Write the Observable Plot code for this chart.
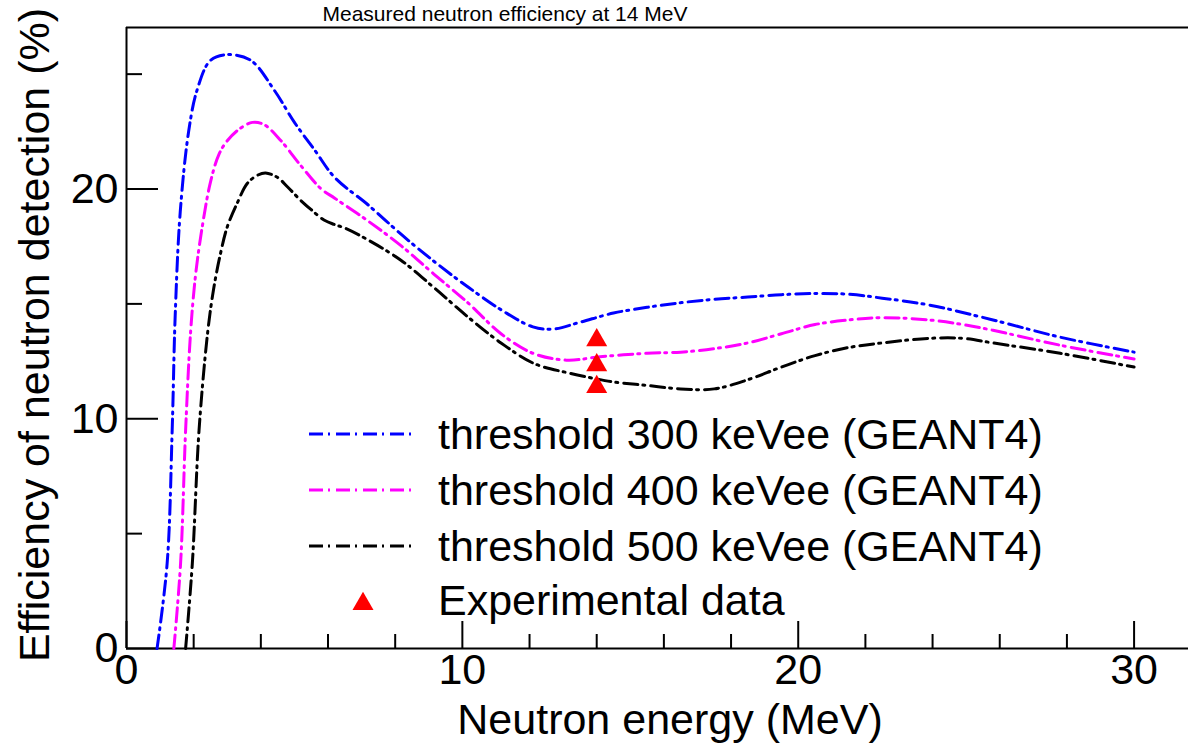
<!DOCTYPE html>
<html>
<head>
<meta charset="utf-8">
<script src="https://cdn.jsdelivr.net/npm/d3@7"></script>
<script src="https://cdn.jsdelivr.net/npm/@observablehq/plot@0.6"></script>
<style>
  html, body { margin: 0; padding: 0; background: #fff; overflow: hidden; }
  #wrap { position: relative; width: 1188px; height: 743px; overflow: hidden; background: #fff;
          font-family: "Liberation Sans", Arial, Helvetica, sans-serif; color: #000; }
  #wrap svg.plot { position: absolute; left: 0; top: 0; }
  .abs { position: absolute; white-space: nowrap; }
</style>
</head>
<body>
<div id="wrap"></div>
<script>
// ---------- data ----------
const titleText = "Measured neutron efficiency at 14 MeV";
const xLabel = "Neutron energy (MeV)";
const yLabel = "Efficiency of neutron detection (%)";

const seriesNames = ["threshold 300 keVee (GEANT4)", "threshold 400 keVee (GEANT4)", "threshold 500 keVee (GEANT4)"];
const seriesColors = ["#0000ff", "#ff00ff", "#000000"];
const expName = "Experimental data";

const e300 = [0.91,1.21,1.36,1.45,1.6,1.85,2.1,2.5,3.0,3.7,4.4,5.0,5.6,6.2,7.2,8.2,9.2,10.2,11.2,12.1,12.7,13.5,14.5,15.5,16.5,17.5,18.5,19.5,20.5,21.5,22.5,23.9,25.8,27.8,30.0];
const eff300 = [0,3.7,9.5,14.5,19.0,22.5,24.3,25.6,25.85,25.6,24.3,22.9,21.7,20.5,19.3,18.0,16.8,15.7,14.7,14.0,13.9,14.2,14.6,14.85,15.05,15.2,15.3,15.4,15.45,15.42,15.25,14.95,14.3,13.55,12.9];

const e400 = [1.41,1.61,1.76,1.91,2.06,2.26,2.5,2.75,3.0,3.35,3.75,4.1,4.6,5.2,5.8,6.2,7.2,8.2,9.15,10.2,11.15,12.1,13.1,14.1,15.5,16.5,17.5,18.5,19.5,20.5,21.5,22.5,23.9,24.9,25.8,27.8,30.0];
const eff400 = [0,3.7,9.5,13.8,16.3,18.4,20.3,21.5,22.1,22.6,22.9,22.8,22.1,21.0,20.0,19.6,18.6,17.5,16.3,15.0,13.7,12.85,12.55,12.7,12.85,12.9,13.05,13.3,13.7,14.1,14.3,14.4,14.3,14.1,13.85,13.2,12.6];

const e500 = [1.76,1.96,2.16,2.42,2.6,2.8,3.0,3.3,3.6,3.9,4.14,4.5,4.79,5.19,5.5,5.88,6.2,6.5,7.17,8.17,9.16,10.15,11.15,12.14,13.14,13.93,14.5,15.5,16.5,17.5,18.5,19.5,20.5,21.5,22.5,23.9,24.9,25.8,27.8,30.0];
const eff500 = [0,3.7,9.5,13.8,15.7,17.2,18.35,19.4,20.25,20.6,20.7,20.5,20.1,19.5,19.1,18.65,18.45,18.3,17.8,16.9,15.7,14.45,13.3,12.4,12.0,11.75,11.6,11.45,11.3,11.3,11.7,12.25,12.75,13.1,13.3,13.5,13.5,13.3,12.85,12.25];

const expEnergy = [14, 14, 14];
const expEff = [13.42, 12.33, 11.39];

const xDomain = [0, 31.62];
const yDomain = [0, 27.03];
const xMajorTicks = [0, 10, 20, 30];
const xMinorTicks = [2, 4, 6, 8, 12, 14, 16, 18, 22, 24, 26, 28];
const yMajorTicks = [0, 10, 20];
const yMinorTicks = [5, 15, 25];

// ---------- layout ----------
const W = 1188, H = 743;
const mL = 126, mR = 0, mT = 27, mB = 95;
const plotW = W - mL - mR, plotH = H - mT - mB;
const FONT = '"Liberation Sans", Arial, Helvetica, sans-serif';
const DASH = "14,5,2,6";
const FS = "43px";

const toRows = (xs, ys) => xs.map((x, i) => ({x, y: ys[i]}));
const rows300 = toRows(e300, eff300);
const rows400 = toRows(e400, eff400);
const rows500 = toRows(e500, eff500);
const expRows = toRows(expEnergy, expEff);

const chart = Plot.plot({
  width: W, height: H,
  marginLeft: mL, marginRight: mR, marginTop: mT, marginBottom: mB,
  style: {fontFamily: FONT, fontSize: FS, color: "#000", background: "transparent", overflow: "visible"},
  x: {domain: xDomain, label: null},
  y: {domain: yDomain, label: null},
  marks: [
    // frame: left, bottom, top
    Plot.ruleX([xDomain[0]], {stroke: "#000", strokeWidth: 2}),
    Plot.ruleY([yDomain[0]], {stroke: "#000", strokeWidth: 2}),
    Plot.ruleY([yDomain[1]], {stroke: "#000", strokeWidth: 2}),
    // inward ticks
    Plot.ruleX(xMajorTicks, {x: d => d, insetTop: plotH - 27, stroke: "#000", strokeWidth: 2}),
    Plot.ruleX(xMinorTicks, {x: d => d, insetTop: plotH - 14, stroke: "#000", strokeWidth: 2}),
    Plot.ruleY(yMajorTicks, {y: d => d, insetRight: plotW - 32, stroke: "#000", strokeWidth: 2}),
    Plot.ruleY(yMinorTicks, {y: d => d, insetRight: plotW - 16, stroke: "#000", strokeWidth: 2}),
    // tick labels
    Plot.axisX({ticks: xMajorTicks, tickSize: 0, tickPadding: 5, label: null, tickFormat: d => String(d)}),
    Plot.axisY({ticks: yMajorTicks, tickSize: 0, tickPadding: 8, label: null, tickFormat: d => String(d)}),
    // curves
    Plot.line(rows300, {x: "x", y: "y", curve: "catmull-rom", stroke: seriesColors[0], strokeWidth: 3, strokeDasharray: DASH}),
    Plot.line(rows400, {x: "x", y: "y", curve: "catmull-rom", stroke: seriesColors[1], strokeWidth: 3, strokeDasharray: DASH}),
    Plot.line(rows500, {x: "x", y: "y", curve: "catmull-rom", stroke: seriesColors[2], strokeWidth: 3, strokeDasharray: DASH}),
    // experimental points
    Plot.dot(expRows, {x: "x", y: "y", symbol: "triangle", r: 7.8, fill: "#ff0000", stroke: "none"})
  ]
});
const wrap = document.getElementById("wrap");
chart.classList.add("plot");
wrap.appendChild(chart);

// ---------- text outside the SVG ----------
function addText(txt, css) {
  const d = document.createElement("div");
  d.className = "abs";
  d.textContent = txt;
  Object.assign(d.style, css);
  wrap.appendChild(d);
  return d;
}
// title (kept in the narrow band above the frame)
addText(titleText, {left: "505px", top: "3px", fontSize: "21px", lineHeight: "21px", transform: "translateX(-50%)"});
// axis titles
addText(xLabel, {left: "670px", top: "698px", fontSize: FS, lineHeight: "43px", transform: "translateX(-50%)"});
addText(yLabel, {left: "34px", top: "335px", fontSize: FS, lineHeight: "43px", transform: "translate(-50%,-50%) rotate(-90deg)"});

// ---------- legend ----------
const legendRowsY = [434, 490, 546, 604];
const legSvg = d3.select(wrap).append("svg")
  .attr("width", W).attr("height", H)
  .style("position", "absolute").style("left", "0px").style("top", "0px");
seriesNames.forEach((name, i) => {
  legSvg.append("line")
    .attr("x1", 309).attr("x2", 417)
    .attr("y1", legendRowsY[i]).attr("y2", legendRowsY[i])
    .attr("stroke", seriesColors[i]).attr("stroke-width", 3)
    .attr("stroke-dasharray", DASH);
  addText(name, {left: "438px", top: (legendRowsY[i] - 21) + "px", fontSize: FS, lineHeight: "43px"});
});
legSvg.append("path")
  .attr("transform", `translate(363,${legendRowsY[3]})`)
  .attr("d", d3.symbol(d3.symbolTriangle, Math.PI * 7.8 * 7.8)())
  .attr("fill", "#ff0000");
addText(expName, {left: "438px", top: (legendRowsY[3] - 25) + "px", fontSize: FS, lineHeight: "43px"});
</script>
</body>
</html>
